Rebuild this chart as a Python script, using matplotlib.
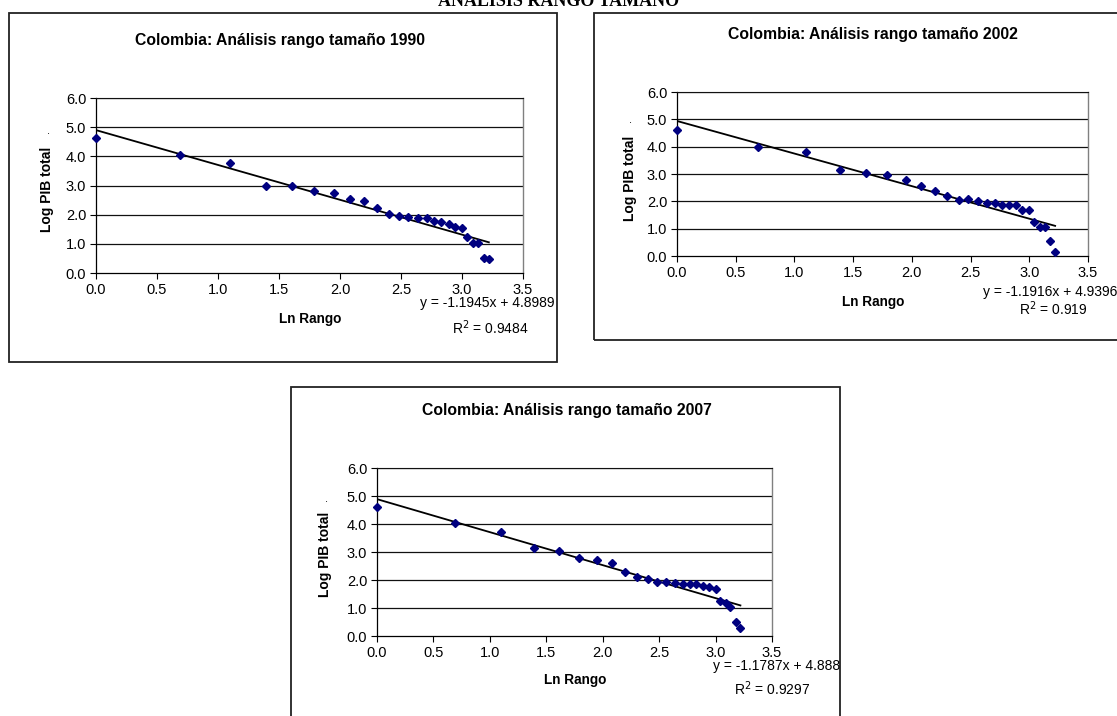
import matplotlib
matplotlib.use("Agg")
import matplotlib.pyplot as plt
from matplotlib.patches import Rectangle

W, H = 1117, 716
plt.rcParams['font.family'] = ['Liberation Sans', 'DejaVu Sans']

# ---- data ----
ln_rango = [0.00, 0.69, 1.10, 1.39, 1.61, 1.79, 1.95, 2.08, 2.20, 2.30,
            2.40, 2.48, 2.56, 2.64, 2.71, 2.77, 2.83, 2.89, 2.94, 3.00,
            3.04, 3.09, 3.13, 3.18, 3.22]
log_pib_1990 = [4.62, 4.05, 3.76, 3.00, 2.97, 2.82, 2.75, 2.55, 2.47, 2.22,
                2.01, 1.95, 1.92, 1.90, 1.89, 1.80, 1.74, 1.67, 1.58, 1.55,
                1.24, 1.02, 1.02, 0.53, 0.47]
log_pib_2002 = [4.60, 4.00, 3.80, 3.13, 3.03, 2.95, 2.77, 2.55, 2.36, 2.21,
                2.06, 2.07, 2.03, 1.94, 1.95, 1.85, 1.85, 1.85, 1.69, 1.69,
                1.25, 1.07, 1.05, 0.56, 0.13]
log_pib_2007 = [4.60, 4.03, 3.73, 3.15, 3.03, 2.80, 2.70, 2.60, 2.30, 2.12,
                2.02, 1.92, 1.93, 1.90, 1.87, 1.87, 1.84, 1.80, 1.74, 1.68,
                1.24, 1.18, 1.03, 0.51, 0.28]
years = ["1990", "2002", "2007"]
slopes = [-1.1945, -1.1916, -1.1787]
intercepts = [4.8989, 4.9396, 4.888]
eq_labels = ["y = -1.1945x + 4.8989", "y = -1.1916x + 4.9396", "y = -1.1787x + 4.888"]
r2_labels = ["0.9484", "0.919", "0.9297"]
x_ticks = [0.0, 0.5, 1.0, 1.5, 2.0, 2.5, 3.0, 3.5]
y_ticks = [0.0, 1.0, 2.0, 3.0, 4.0, 5.0, 6.0]
series = [log_pib_1990, log_pib_2002, log_pib_2007]

fig = plt.figure(figsize=(W / 100, H / 100), dpi=100)

def fx(x):
    return x / W

def fy(y):
    return 1 - y / H

# panel layouts in pixels
boxes = [(9, 13, 557, 362), (594, 13, 1130, 340), (291, 387, 840, 730)]
axes_px = [(96, 98, 523, 273), (677, 92, 1088, 256), (377, 468, 772, 636)]
titles_px = [(280, 41), (873, 35), (567, 410)]
ylab_px = [(47, 189), (630, 178), (325, 554)]
xlab_px = [(310, 319), (873, 302), (575, 680)]
eq_px = [(555, 303), (1117, 292), (840, 666)]
r2_px = [(490, 328), (1053, 309), (772, 689)]
dot_px = [(48, 131), (631, 120), (326, 499)]

fig.text(0.5, fy(1), "ANÁLISIS RANGO TAMAÑO", family=['Liberation Serif', 'DejaVu Serif'],
         fontsize=13, fontweight='bold', ha='center', va='center')

for i in range(3):
    bx0, by0, bx1, by1 = boxes[i]
    fig.patches.append(Rectangle((fx(bx0), fy(by1)), fx(bx1 - bx0), (by1 - by0) / H,
                                 transform=fig.transFigure, fill=False,
                                 edgecolor='#222222', lw=1.3))
    l, t, r, b = axes_px[i]
    ax = fig.add_axes([fx(l), fy(b), fx(r - l), (b - t) / H])
    ax.set_xlim(0, 3.5)
    ax.set_ylim(0, 6)
    ax.set_xticks(x_ticks)
    ax.set_yticks(y_ticks)
    ax.set_xticklabels([f"{v:.1f}" for v in x_ticks])
    ax.set_yticklabels([f"{v:.1f}" for v in y_ticks])
    ax.tick_params(labelsize=10.5, length=4, width=0.8, direction='out', pad=3)
    for yv in y_ticks[1:]:
        ax.axhline(yv, color='#111111', lw=0.9, zorder=1)
    for s in ['left', 'bottom']:
        ax.spines[s].set_color('black')
        ax.spines[s].set_linewidth(0.9)
    ax.spines['top'].set_color('#111111')
    ax.spines['right'].set_color('#808080')
    ax.spines['right'].set_linewidth(1.0)
    xs = ln_rango
    ys = series[i]
    xmax = max(xs)
    ax.plot([0, xmax], [intercepts[i], slopes[i] * xmax + intercepts[i]],
            color='black', lw=1.3, zorder=2)
    ax.plot(xs, ys, linestyle='none', marker='D', markersize=4.3,
            color='#000080', zorder=3, clip_on=False)

    tx, ty = titles_px[i]
    fig.text(fx(tx), fy(ty), f"Colombia: Análisis rango tamaño {years[i]}",
             fontsize=11.3, fontweight='bold', ha='center', va='center')
    yx, yy = ylab_px[i]
    fig.text(fx(yx), fy(yy), "Log PIB total", fontsize=10, fontweight='bold',
             rotation=90, ha='center', va='center')
    dx, dy = dot_px[i]
    fig.text(fx(dx), fy(dy), ".", fontsize=8, ha='center', va='center')
    xx, xy = xlab_px[i]
    fig.text(fx(xx), fy(xy), "Ln Rango", fontsize=9.8, fontweight='bold',
             ha='center', va='center')
    ex, ey = eq_px[i]
    fig.text(fx(ex), fy(ey), eq_labels[i], fontsize=10, ha='right', va='center')
    rx, ry = r2_px[i]
    fig.text(fx(rx), fy(ry), f"R$^2$ = {r2_labels[i]}", fontsize=10,
             ha='center', va='center')

fig.savefig("out.png", dpi=100)
